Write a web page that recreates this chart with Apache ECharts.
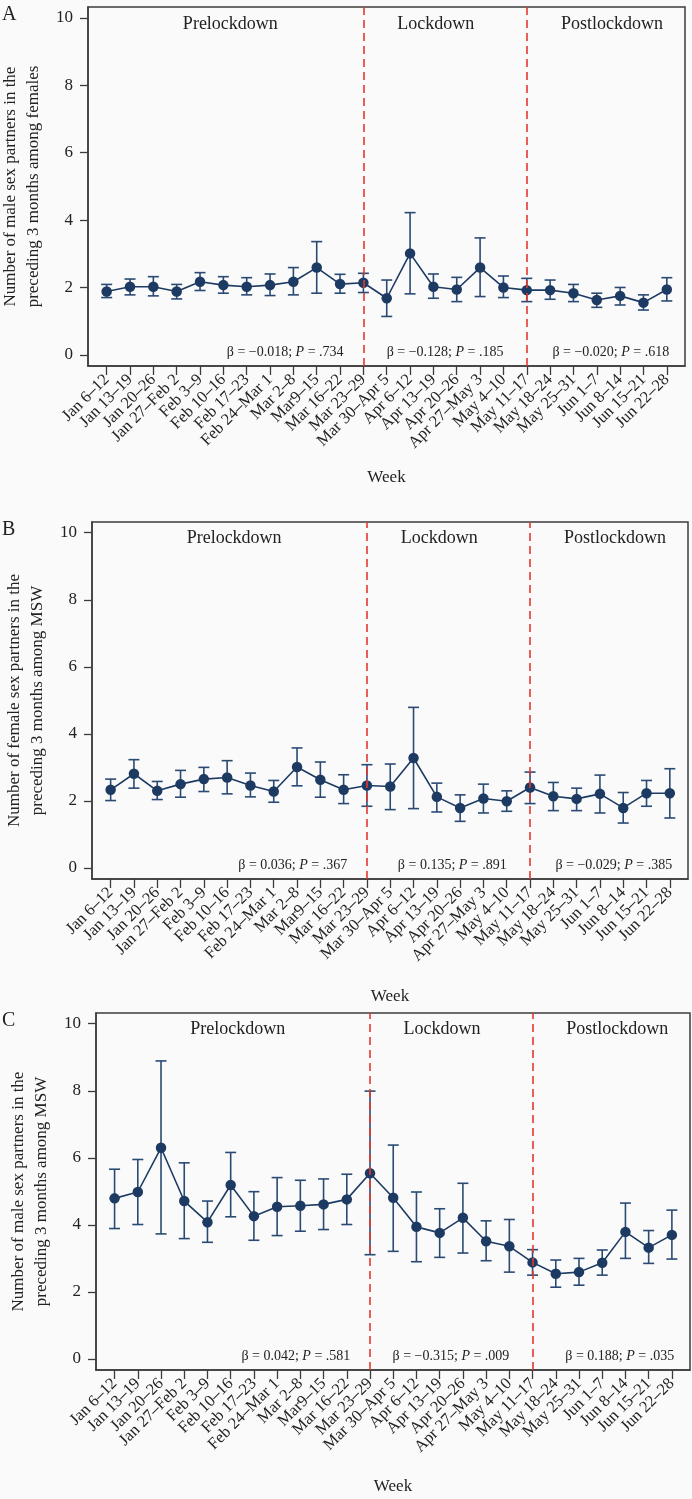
<!DOCTYPE html>
<html>
<head>
<meta charset="utf-8">
<script src="https://cdn.jsdelivr.net/npm/echarts@6/dist/echarts.min.js"></script>
<style>
html,body{margin:0;padding:0;background:#fafafa;}
#c{width:692px;height:1499px;}
</style>
</head>
<body>
<div id="c"></div>
<script>
const weeks = ['Jan 6–12','Jan 13–19','Jan 20–26','Jan 27–Feb 2','Feb 3–9','Feb 10–16','Feb 17–23','Feb 24–Mar 1','Mar 2–8','Mar9–15','Mar 16–22','Mar 23–29','Mar 30–Apr 5','Apr 6–12','Apr 13–19','Apr 20–26','Apr 27–May 3','May 4–10','May 11–17','May 18–24','May 25–31','Jun 1–7','Jun 8–14','Jun 15–21','Jun 22–28'];

const meanA = [1.88,2.02,2.02,1.88,2.17,2.07,2.02,2.07,2.17,2.59,2.10,2.14,1.68,3.01,2.02,1.94,2.59,2.00,1.92,1.92,1.83,1.63,1.75,1.55,1.94];
const lowA  = [1.70,1.78,1.75,1.66,1.91,1.83,1.78,1.76,1.78,1.83,1.83,1.85,1.14,1.81,1.68,1.58,1.73,1.70,1.58,1.65,1.58,1.41,1.48,1.33,1.60];
const highA = [2.09,2.25,2.32,2.09,2.44,2.32,2.29,2.40,2.59,3.36,2.39,2.42,2.22,4.22,2.40,2.30,3.47,2.34,2.27,2.22,2.09,1.83,2.00,1.78,2.29];

const meanB = [2.33,2.81,2.30,2.50,2.65,2.70,2.46,2.28,3.01,2.63,2.33,2.46,2.43,3.28,2.12,1.79,2.07,1.99,2.40,2.14,2.06,2.21,1.79,2.23,2.23];
const lowB  = [2.01,2.38,2.04,2.11,2.28,2.21,2.12,1.96,2.45,2.11,1.92,1.84,1.74,1.77,1.67,1.39,1.64,1.69,1.92,1.71,1.71,1.64,1.34,1.84,1.49];
const highB = [2.65,3.23,2.58,2.91,3.00,3.20,2.83,2.61,3.58,3.16,2.78,3.08,3.10,4.79,2.53,2.18,2.50,2.30,2.86,2.55,2.38,2.77,2.25,2.61,2.96];

const meanC = [4.79,4.98,6.30,4.71,4.08,5.19,4.26,4.54,4.57,4.61,4.76,5.54,4.81,3.94,3.76,4.21,3.51,3.36,2.88,2.54,2.59,2.87,3.79,3.32,3.70];
const lowC  = [3.89,4.01,3.73,3.59,3.48,4.24,3.54,3.68,3.81,3.86,4.01,3.11,3.21,2.90,3.03,3.16,2.93,2.59,2.50,2.14,2.20,2.50,3.00,2.85,2.98];
const highC = [5.66,5.95,8.89,5.85,4.71,6.16,4.99,5.41,5.33,5.37,5.51,7.99,6.38,4.98,4.48,5.24,4.12,4.16,3.26,2.95,3.00,3.25,4.65,3.83,4.44];

const phaseNames = ['Prelockdown','Lockdown','Postlockdown'];
const phaseBreaks = [11, 18];
const betaA = [['−0.018','.734'],['−0.128','.185'],['−0.020','.618']];
const betaB = [['0.036','.367'],['0.135','.891'],['−0.029','.385']];
const betaC = [['0.042','.581'],['−0.315','.009'],['0.188','.035']];

const yTicks = [0,2,4,6,8,10];
const yTitles = [
  'Number of male sex partners in the\npreceding 3 months among females',
  'Number of female sex partners in the\npreceding 3 months among MSW',
  'Number of male sex partners in the\npreceding 3 months among MSW'
];
const panelLetters = ['A','B','C'];

// layout (pixel positions of panels) - not data
const FONT = '"Liberation Serif","DejaVu Serif",serif';
const NAVY = '#1d3b62';
const BAR = '#2a4a74';
const RED = '#e3392f';
const FRAME = '#3c3c3c';
const TXT = '#222';
const X_MIN = -0.8, X_MAX = 24.78;
const grids = [
  {left:88, top:7, width:597, height:359, nameGapY:41, nameGapX:103},
  {left:92, top:522, width:596, height:357, nameGapY:38, nameGapX:109},
  {left:96, top:1013, width:594, height:357, nameGapY:42, nameGapX:108}
];
const phaseLabelX = [5.3, 14.1, 21.65];
const phaseLabelY = 9.82;
const betaX = [10.15, 17.0, 24.1];
const betaY = 0.07;

const panels = [
  {mean:meanA, low:lowA, high:highA, beta:betaA},
  {mean:meanB, low:lowB, high:highB, beta:betaB},
  {mean:meanC, low:lowC, high:highC, beta:betaC}
];

const chart = echarts.init(document.getElementById('c'), null, {renderer:'canvas'});
const xIdx = weeks.map((w,i)=>i);
// placeholder (empty) labels at the axis ends so that no real week label is dropped
const xLabelValues = [X_MIN].concat(xIdx, [X_MAX]);

const option = {
  backgroundColor:'#fafafa',
  animation:false,
  grid: grids.map(g=>({left:g.left, top:g.top, width:g.width, height:g.height, show:true, borderColor:FRAME, borderWidth:1.5, backgroundColor:'transparent', containLabel:false, outerBoundsMode:'none'})),
  xAxis: grids.map((g,k)=>({
    type:'value', gridIndex:k, min:X_MIN, max:X_MAX,
    name:'Week', nameLocation:'middle', nameGap:g.nameGapX,
    nameTextStyle:{fontFamily:FONT, fontSize:17, color:TXT},
    axisLine:{show:true, onZero:false, lineStyle:{color:FRAME, width:1.5}},
    axisTick:{show:true, customValues:xIdx, length:9, lineStyle:{color:FRAME, width:1.3}},
    axisLabel:{customValues:xLabelValues, rotate:45, margin:11, fontFamily:FONT, fontSize:16.5, color:TXT,
      hideOverlap:false, showMinLabel:false, showMaxLabel:false,
      formatter:v=>{const i=Math.round(v); return (Math.abs(v-i)<1e-6 && weeks[i]) ? weeks[i] : '';}},
    splitLine:{show:false}
  })),
  yAxis: grids.map((g,k)=>({
    type:'value', gridIndex:k, min:-0.33, max:10.32,
    name:yTitles[k], nameLocation:'middle', nameGap:g.nameGapY, nameRotate:90,
    nameTextStyle:{fontFamily:FONT, fontSize:17, color:TXT, lineHeight:23},
    axisLine:{show:true, onZero:false, lineStyle:{color:FRAME, width:1.5}},
    axisTick:{show:true, customValues:yTicks, length:8, lineStyle:{color:FRAME, width:1.3}},
    axisLabel:{customValues:yTicks, margin:15, fontFamily:FONT, fontSize:17, color:TXT,
      showMinLabel:true, showMaxLabel:true},
    splitLine:{show:false}
  })),
  graphic: grids.map((g,k)=>({
    type:'text', left:2, top:g.top-2,
    style:{text:panelLetters[k], font:'20px '+FONT, fill:TXT}
  })),
  series: []
};

panels.forEach((p,k)=>{
  option.series.push({
    type:'custom', xAxisIndex:k, yAxisIndex:k, z:2,
    data: p.mean.map((m,i)=>[i, p.low[i], p.high[i]]),
    renderItem:(params, api)=>{
      const x = api.value(0);
      const t = api.coord([x, api.value(2)]);
      const b = api.coord([x, api.value(1)]);
      const hw = 5.5;
      const st = {stroke:BAR, lineWidth:1.6};
      return {type:'group', children:[
        {type:'line', shape:{x1:t[0], y1:t[1], x2:b[0], y2:b[1]}, style:st},
        {type:'line', shape:{x1:t[0]-hw, y1:t[1], x2:t[0]+hw, y2:t[1]}, style:st},
        {type:'line', shape:{x1:b[0]-hw, y1:b[1], x2:b[0]+hw, y2:b[1]}, style:st}
      ]};
    },
    markLine:{
      silent:true, symbol:['none','none'], animation:false,
      label:{show:false},
      lineStyle:{color:RED, type:[8,5], width:1.6},
      data: phaseBreaks.map(b=>({xAxis:b}))
    }
  });
  option.series.push({
    type:'line', xAxisIndex:k, yAxisIndex:k, z:3,
    data: p.mean.map((m,i)=>[i,m]),
    symbol:'circle', symbolSize:10.5, showSymbol:true,
    lineStyle:{color:NAVY, width:1.6},
    itemStyle:{color:NAVY}
  });
  option.series.push({
    type:'custom', xAxisIndex:k, yAxisIndex:k, z:4, silent:true,
    data: phaseNames.map((n,i)=>[phaseLabelX[i], phaseLabelY]),
    renderItem:(params, api)=>{
      const c = api.coord([api.value(0), api.value(1)]);
      return {type:'text', x:c[0], y:c[1], style:{
        text:phaseNames[params.dataIndex], fontFamily:FONT, fontSize:18, fill:TXT,
        align:'center', verticalAlign:'middle'}};
    }
  });
  option.series.push({
    type:'custom', xAxisIndex:k, yAxisIndex:k, z:4, silent:true,
    data: p.beta.map((b,i)=>[betaX[i], betaY]),
    renderItem:(params, api)=>{
      const c = api.coord([api.value(0), api.value(1)]);
      const b = p.beta[params.dataIndex];
      return {type:'text', x:c[0], y:c[1], style:{
        text:'{n|β = '+b[0]+'; }{i|P}{n| = '+b[1]+'}',
        rich:{n:{fontFamily:FONT, fontSize:14, fill:TXT, color:TXT},
              i:{fontFamily:FONT, fontSize:14, fontStyle:'italic', fill:TXT, color:TXT}},
        fontFamily:FONT, fontSize:14, fill:TXT,
        align:'right', verticalAlign:'middle'}};
    }
  });
});

chart.setOption(option);
</script>
</body>
</html>
